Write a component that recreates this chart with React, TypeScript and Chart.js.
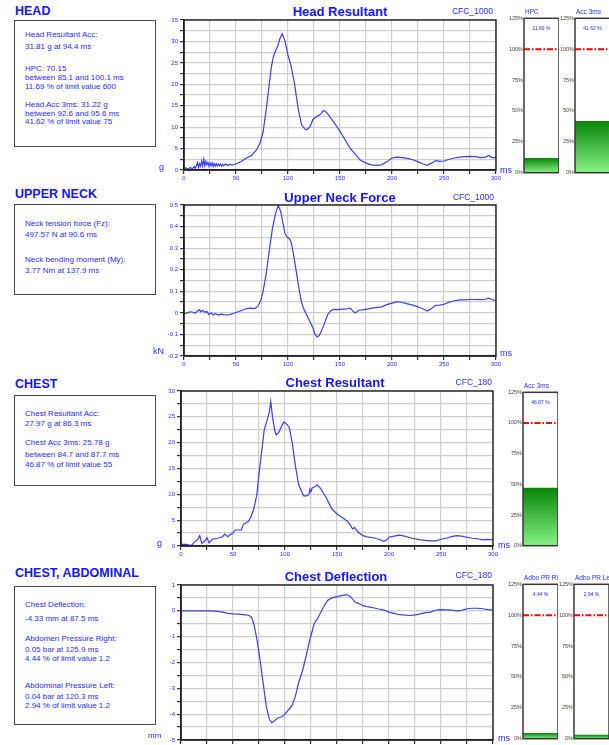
import React, { useEffect, useRef } from 'react';
import { Chart, registerables } from 'chart.js';

Chart.register(...registerables);

const FONT = "'Liberation Sans', Arial, Helvetica, sans-serif";
Chart.defaults.font.family = FONT;

const TITLE_BLUE = '#1414ff';
const TEXT_BLUE = '#2a2aff';
const LINE_BLUE = '#3c3cf0';
const GRID = '#cdcdcd';

// ---------- DATA ----------
const headT = [0, 2, 4, 6, 8, 10, 11, 12, 13, 14, 15, 16, 17, 18, 19, 20, 21, 22, 23, 24, 25, 26, 27, 28, 29, 30, 31, 32, 33, 34, 35, 36, 37, 38, 40, 42, 44, 46, 48, 50, 55, 60, 65, 70, 73, 76, 79, 82, 84, 86, 88, 90, 92, 94.4, 97, 100, 103, 106, 110, 113, 116, 118, 121, 124, 127, 130, 132, 134, 137, 140, 145, 150, 155, 160, 165, 170, 175, 180, 185, 190, 195, 200, 205, 210, 215, 220, 225, 230, 234, 238, 242, 246, 250, 255, 260, 265, 270, 275, 280, 285, 290, 293, 296, 300];
const headG = [0.3, 0.5, 0.2, 0.6, 0.3, 0.8, 0.4, 1.0, 1.7, 0.6, 1.5, 0.9, 2.1, 0.9, 2.5, 1.0, 2.0, 1.2, 1.8, 0.9, 1.6, 1.0, 1.7, 0.8, 1.5, 0.9, 1.5, 0.9, 1.4, 1.0, 1.4, 0.9, 1.3, 1.0, 1.4, 1.1, 1.3, 1.2, 1.3, 1.4, 2.0, 2.8, 3.4, 4.8, 6.2, 8.8, 14.0, 20.0, 24.0, 26.5, 27.8, 28.8, 30.5, 31.8, 30.2, 26.8, 24.3, 20.5, 14.0, 10.6, 9.6, 9.4, 10.0, 11.8, 12.4, 12.8, 13.2, 13.9, 13.5, 12.5, 10.8, 9.0, 7.0, 5.0, 3.6, 2.2, 1.6, 1.2, 1.1, 1.2, 1.9, 2.8, 3.0, 2.9, 2.7, 2.4, 1.9, 1.4, 1.1, 1.6, 2.2, 2.0, 2.1, 2.5, 2.8, 3.0, 3.1, 3.2, 3.1, 2.9, 3.0, 3.4, 2.9, 2.9];

const neckT = [0, 3, 6, 9, 11, 13, 15, 16, 18, 20, 22, 24, 26, 28, 30, 33, 36, 40, 44, 48, 52, 56, 60, 64, 68, 71, 74, 76, 79, 82, 85, 88, 90.6, 93, 95, 97, 99, 101, 103, 105, 107, 109, 111, 113, 115, 118, 121, 124, 126, 128, 130, 132, 135, 138, 141, 144, 148, 152, 156, 160, 163, 165, 168, 172, 178, 184, 190, 195, 200, 205, 210, 215, 220, 225, 230, 234, 238, 242, 246, 250, 255, 260, 265, 270, 275, 280, 285, 290, 293, 296, 300];
const neckKN = [-0.005, 0.0, 0.005, 0.003, -0.002, 0.01, 0.015, 0.005, 0.012, 0.003, 0.006, -0.008, 0.0, -0.01, -0.004, -0.01, -0.006, -0.01, -0.008, -0.002, 0.005, 0.012, 0.02, 0.022, 0.02, 0.03, 0.06, 0.1, 0.18, 0.29, 0.39, 0.46, 0.498, 0.47, 0.42, 0.37, 0.352, 0.345, 0.33, 0.28, 0.22, 0.16, 0.1, 0.05, 0.02, -0.01, -0.04, -0.07, -0.1, -0.112, -0.105, -0.085, -0.05, -0.01, 0.01, 0.016, 0.015, 0.017, 0.018, 0.022, 0.005, 0.0, 0.012, 0.014, 0.02, 0.024, 0.028, 0.038, 0.045, 0.052, 0.048, 0.042, 0.036, 0.028, 0.018, 0.008, 0.02, 0.035, 0.036, 0.04, 0.05, 0.056, 0.06, 0.06, 0.062, 0.062, 0.061, 0.063, 0.068, 0.062, 0.056];

const chestT = [0, 5, 10, 13, 16, 18, 20, 23, 25, 27, 30, 35, 40, 42, 45, 48, 50, 52, 55, 58, 60, 65, 68, 70, 73, 75, 78, 80, 83, 85, 86.3, 88, 90, 91.5, 94, 97, 99, 102, 104, 107, 110, 113, 116, 118, 121, 123, 124, 125, 126, 129, 131, 134, 137, 140, 145, 150, 155, 160, 163, 165, 167, 170, 175, 180, 185, 190, 195, 198, 200, 205, 210, 215, 220, 230, 240, 245, 250, 255, 260, 265, 270, 275, 280, 285, 290, 295, 300];
const chestG = [0.3, 0.3, 0.1, 0.8, 1.2, 2.0, 0.5, 1.0, 1.6, 0.6, 1.3, 1.5, 1.8, 2.3, 1.8, 2.3, 2.5, 3.1, 3.1, 3.1, 4.2, 4.8, 6.0, 7.2, 10.0, 14.0, 19.0, 22.5, 24.5, 26.0, 28.0, 25.0, 22.5, 21.5, 22.0, 23.3, 24.0, 23.5, 23.0, 20.0, 15.5, 12.0, 10.5, 9.7, 9.7, 10.0, 11.0, 10.5, 11.2, 11.5, 11.8, 11.2, 10.2, 9.2, 7.2, 6.2, 5.5, 4.8, 4.0, 3.3, 3.6, 2.7, 2.0, 1.7, 1.6, 1.3, 0.9, 1.2, 1.7, 1.9, 2.1, 1.9, 1.6, 1.2, 1.0, 1.0, 1.3, 1.5, 1.8, 2.0, 1.9, 1.7, 1.5, 1.4, 1.2, 1.3, 1.2];

const deflT = [0, 20, 30, 35, 40, 45, 50, 55, 60, 65, 68, 70, 73, 76, 79, 82, 85, 87.5, 90, 93, 97, 100, 104, 107, 110, 113, 117, 120, 124, 128, 132, 137, 141, 145, 150, 155, 160, 163, 167, 170, 175, 180, 185, 190, 195, 200, 205, 210, 220, 225, 230, 235, 240, 245, 250, 260, 265, 270, 275, 280, 285, 290, 295, 300];
const deflMM = [0, 0, 0, -0.02, -0.05, -0.1, -0.12, -0.13, -0.15, -0.17, -0.25, -0.5, -1.1, -1.9, -2.8, -3.7, -4.2, -4.33, -4.25, -4.15, -4.1, -4.0, -3.8, -3.65, -3.3, -2.8, -2.3, -1.8, -1.1, -0.5, -0.25, 0.15, 0.4, 0.5, 0.55, 0.6, 0.62, 0.55, 0.35, 0.3, 0.2, 0.15, 0.12, 0.07, 0.03, -0.05, -0.1, -0.15, -0.18, -0.16, -0.12, -0.07, -0.05, 0.03, 0.05, 0.03, 0.0, 0.02, 0.08, 0.1, 0.1, 0.08, 0.05, 0.03];

const gaugeNames = ['HPC', 'Acc 3ms', 'Acc 3ms', 'Adbo PR Ri', 'Adbo PR Le'];
const gaugeValues = [11.69, 41.62, 46.87, 4.44, 2.94];
const gaugeLimit = 100;
const gaugeTicks = [0, 25, 50, 75, 100, 125];

// ---------- PLUGINS ----------
const framePlugin = {
  id: 'frame',
  afterDraw(chart: any) {
    const { ctx, chartArea: a } = chart;
    ctx.save();
    ctx.strokeStyle = '#1e1e1e';
    ctx.lineWidth = 1.4;
    ctx.strokeRect(a.left, a.top, a.right - a.left, a.bottom - a.top);
    ctx.restore();
  },
};

const limitPlugin = {
  id: 'limitLine',
  afterDatasetsDraw(chart: any) {
    const { ctx, chartArea: a, scales } = chart;
    const y = scales.y.getPixelForValue(gaugeLimit);
    ctx.save();
    ctx.strokeStyle = '#ff0000';
    ctx.lineWidth = 2;
    ctx.setLineDash([6, 2, 1.5, 2]);
    ctx.beginPath();
    ctx.moveTo(a.left, y);
    ctx.lineTo(a.right, y);
    ctx.stroke();
    ctx.restore();
  },
  afterDraw(chart: any) {
    const { ctx, chartArea: a } = chart;
    ctx.save();
    ctx.strokeStyle = '#383838';
    ctx.lineWidth = 1.5;
    ctx.strokeRect(a.left, a.top, a.right - a.left, a.bottom - a.top);
    ctx.restore();
  },
};

// ---------- COMPONENTS ----------
type LineProps = {
  left: number; top: number; plotLeft: number; plotTop: number; plotRight: number; plotBottom: number;
  t: number[]; v: number[]; min: number; max: number; step: number; every: number;
};

function LineChart(p: LineProps) {
  const ref = useRef<HTMLCanvasElement>(null);
  const axisW = p.plotLeft - p.left;
  const padTop = p.plotTop - p.top;
  const xH = 12;
  const padRight = 10;
  const width = p.plotRight - p.left + padRight;
  const height = p.plotBottom - p.top + xH;
  useEffect(() => {
    const chart = new Chart(ref.current as HTMLCanvasElement, {
      type: 'line',
      data: {
        datasets: [{
          data: p.t.map((x, i) => ({ x, y: p.v[i] })),
          borderColor: LINE_BLUE,
          borderWidth: 1.2,
          pointRadius: 0,
          tension: 0,
          fill: false,
        }],
      },
      options: {
        animation: false,
        responsive: false,
        maintainAspectRatio: false,
        events: [],
        layout: { padding: { top: padTop, right: padRight, left: 0, bottom: 0 } },
        plugins: { legend: { display: false }, tooltip: { enabled: false } },
        scales: {
          x: {
            type: 'linear', min: 0, max: 300,
            ticks: {
              stepSize: 25, autoSkip: false, maxRotation: 0, padding: 1, color: TEXT_BLUE,
              font: { size: 6, family: FONT },
              callback: (val: any) => (Math.round(Number(val)) % 50 === 0 ? String(Math.round(Number(val))) : ''),
            },
            grid: { color: GRID, lineWidth: 1.2, tickColor: '#333', tickLength: 4 },
            border: { color: '#1e1e1e', width: 1.5 },
            afterFit: (s: any) => { s.height = xH; },
          },
          y: {
            type: 'linear', min: p.min, max: p.max,
            ticks: {
              stepSize: p.step, autoSkip: false, padding: 2, color: TEXT_BLUE,
              font: { size: 6, family: FONT },
              callback: (val: any) => {
                const n = Number(val);
                const k = Math.round((n / p.every) * 1000) / 1000;
                return Number.isInteger(k) ? String(parseFloat(n.toFixed(3))) : '';
              },
            },
            grid: { color: GRID, lineWidth: 1.2, tickColor: '#333', tickLength: 4 },
            border: { color: '#1e1e1e', width: 1.5 },
            afterFit: (s: any) => { s.width = axisW; },
          },
        },
      } as any,
      plugins: [framePlugin],
    });
    return () => chart.destroy();
  }, []);
  return (
    <canvas ref={ref} width={width} height={height}
      style={{ position: 'absolute', left: p.left, top: p.top, width, height }} />
  );
}

type GaugeProps = { plotLeft: number; plotTop: number; plotBottom: number; idx: number };

function Gauge(p: GaugeProps) {
  const ref = useRef<HTMLCanvasElement>(null);
  const W = 16;
  const plotW = 35;
  const pad = 4;
  const left = p.plotLeft - W;
  const top = p.plotTop - pad;
  const width = W + plotW;
  const height = p.plotBottom - p.plotTop + pad * 2;
  const value = gaugeValues[p.idx];
  useEffect(() => {
    const chart = new Chart(ref.current as HTMLCanvasElement, {
      type: 'bar',
      data: {
        labels: [gaugeNames[p.idx]],
        datasets: [{
          data: [value],
          barPercentage: 1,
          categoryPercentage: 1,
          borderWidth: 0,
          backgroundColor: (ctx: any) => {
            const c = ctx.chart;
            const a = c.chartArea;
            if (!a || !c.scales || !c.scales.y) return '#1a9a1a';
            const yTop = c.scales.y.getPixelForValue(value);
            const g = c.ctx.createLinearGradient(0, yTop, 0, a.bottom);
            g.addColorStop(0, '#0a860a');
            g.addColorStop(1, '#86f286');
            return g;
          },
        }],
      },
      options: {
        animation: false,
        responsive: false,
        maintainAspectRatio: false,
        events: [],
        layout: { padding: { top: pad, bottom: pad, left: 0, right: 0 } },
        plugins: { legend: { display: false }, tooltip: { enabled: false } },
        scales: {
          x: { display: false },
          y: {
            min: 0, max: 125,
            afterBuildTicks: (s: any) => { s.ticks = gaugeTicks.map((v) => ({ value: v })); },
            ticks: {
              padding: 1, color: '#4a4038',
              font: { size: 5.5, family: FONT },
              callback: (val: any) => `${val}%`,
            },
            grid: { display: false, drawTicks: false },
            border: { display: false },
            afterFit: (s: any) => { s.width = W; },
          },
        },
      } as any,
      plugins: [limitPlugin],
    });
    return () => chart.destroy();
  }, []);
  const cx = p.plotLeft + plotW / 2;
  return (
    <>
      <canvas ref={ref} width={width} height={height}
        style={{ position: 'absolute', left, top, width, height }} />
      <Txt x={p.plotLeft + 1} y={p.plotTop - 6} size={6.5} color={TEXT_BLUE}>{gaugeNames[p.idx]}</Txt>
      <Txt x={cx} y={p.plotTop + 10} size={5} color={TEXT_BLUE} align="center">{`${value.toFixed(2)} %`}</Txt>
    </>
  );
}

type TxtProps = { x: number; y: number; size: number; color: string; bold?: boolean; align?: 'left' | 'center' | 'right'; children: any };

function Txt({ x, y, size, color, bold, align = 'left', children }: TxtProps) {
  const tx = align === 'center' ? '-50%' : align === 'right' ? '-100%' : '0';
  return (
    <div style={{
      position: 'absolute', left: x, top: y, fontSize: size, lineHeight: 1, color,
      fontWeight: bold ? 'bold' : 'normal', fontFamily: FONT, whiteSpace: 'nowrap',
      transform: `translate(${tx}, -50%)`,
    }}>{children}</div>
  );
}

function Box({ x, y, w, h, lines }: { x: number; y: number; w: number; h: number; lines: [string, number][] }) {
  return (
    <>
      <div style={{ position: 'absolute', left: x, top: y, width: w, height: h, border: '1.5px solid #4a4a4a', boxSizing: 'border-box' }} />
      {lines.map(([s, yy], i) => (
        <Txt key={i} x={25} y={yy} size={8} color={TEXT_BLUE}>{s}</Txt>
      ))}
    </>
  );
}

export default function App() {
  return (
    <div style={{ position: 'absolute', left: 0, top: 0, width: 609, height: 745, overflow: 'hidden', background: '#fff', fontFamily: FONT }}>
      {/* HEAD */}
      <Txt x={15} y={11} size={12.5} bold color={TITLE_BLUE}>HEAD</Txt>
      <Box x={14} y={20} w={142} h={127} lines={[
        ['Head Resultant Acc:', 34.5], ['31.81 g at 94.4 ms', 47],
        ['HPC: 70.15', 68.5], ['between 85.1 and 100.1 ms', 77.5], ['11.69 % of limit value 600', 87],
        ['Head Acc 3ms: 31.22 g', 105], ['between 92.6 and 95.6 ms', 113.5], ['41.62 % of limit value 75', 122],
      ]} />
      <Txt x={340} y={10.5} size={13} bold color={TITLE_BLUE} align="center">Head Resultant</Txt>
      <Txt x={493} y={10.5} size={8.5} color={TEXT_BLUE} align="right">CFC_1000</Txt>
      <LineChart left={160} top={14} plotLeft={184} plotTop={20} plotRight={496} plotBottom={170}
        t={headT} v={headG} min={0} max={35} step={2.5} every={5} />
      <Txt x={159} y={167} size={9} color={TEXT_BLUE}>g</Txt>
      <Txt x={500} y={170} size={9} color={TEXT_BLUE}>ms</Txt>
      <Gauge plotLeft={524} plotTop={18} plotBottom={173} idx={0} />
      <Gauge plotLeft={575} plotTop={18} plotBottom={173} idx={1} />

      {/* UPPER NECK */}
      <Txt x={15} y={193.5} size={12.5} bold color={TITLE_BLUE}>UPPER NECK</Txt>
      <Box x={14} y={204} w={142} h={91} lines={[
        ['Neck tension force (Fz):', 224], ['497.57 N at 90.6 ms', 235],
        ['Neck bending moment (My):', 260], ['3.77 Nm at 137.9 ms', 271],
      ]} />
      <Txt x={340} y={196.5} size={13} bold color={TITLE_BLUE} align="center">Upper Neck Force</Txt>
      <Txt x={494} y={196.5} size={8.5} color={TEXT_BLUE} align="right">CFC_1000</Txt>
      <LineChart left={160} top={199} plotLeft={184} plotTop={205} plotRight={496} plotBottom={356}
        t={neckT} v={neckKN} min={-0.2} max={0.5} step={0.05} every={0.1} />
      <Txt x={153} y={351} size={9} color={TEXT_BLUE}>kN</Txt>
      <Txt x={500} y={353} size={9} color={TEXT_BLUE}>ms</Txt>

      {/* CHEST */}
      <Txt x={15} y={383.5} size={12.5} bold color={TITLE_BLUE}>CHEST</Txt>
      <Box x={14} y={395} w={142} h={91} lines={[
        ['Chest Resultant Acc:', 413.5], ['27.97 g at 86.3 ms', 424],
        ['Chest Acc 3ms: 25.78 g', 443], ['between 84.7 and 87.7 ms', 455], ['46.87 % of limit value 55', 465],
      ]} />
      <Txt x={335} y={382} size={13} bold color={TITLE_BLUE} align="center">Chest Resultant</Txt>
      <Txt x={492} y={381.5} size={8.5} color={TEXT_BLUE} align="right">CFC_180</Txt>
      <LineChart left={157} top={385} plotLeft={181} plotTop={391} plotRight={493} plotBottom={546}
        t={chestT} v={chestG} min={0} max={30} step={2.5} every={5} />
      <Txt x={157} y={543} size={9} color={TEXT_BLUE}>g</Txt>
      <Txt x={498} y={545} size={9} color={TEXT_BLUE}>ms</Txt>
      <Gauge plotLeft={523} plotTop={392} plotBottom={546} idx={2} />

      {/* CHEST, ABDOMINAL */}
      <Txt x={15} y={572.5} size={12.5} bold color={TITLE_BLUE}>CHEST, ABDOMINAL</Txt>
      <Box x={14} y={586} w={142} h={139} lines={[
        ['Chest Deflection:', 605], ['-4.33 mm at 87.5 ms', 618.5],
        ['Abdomen Pressure Right:', 638.5], ['0.05 bar at 125.9 ms', 649.5], ['4.44 % of limit value 1.2', 658.5],
        ['Abdominal Pressure Left:', 686], ['0.04 bar at 120.3 ms', 697], ['2.94 % of limit value 1.2', 706],
      ]} />
      <Txt x={336} y={576} size={13} bold color={TITLE_BLUE} align="center">Chest Deflection</Txt>
      <Txt x={492} y={575} size={8.5} color={TEXT_BLUE} align="right">CFC_180</Txt>
      <LineChart left={157} top={579} plotLeft={181} plotTop={585} plotRight={493} plotBottom={740}
        t={deflT} v={deflMM} min={-5} max={1} step={0.5} every={1} />
      <Txt x={148} y={736} size={8} color={TEXT_BLUE}>mm</Txt>
      <Txt x={498} y={738} size={9} color={TEXT_BLUE}>ms</Txt>
      <Gauge plotLeft={523} plotTop={584} plotBottom={739} idx={3} />
      <Gauge plotLeft={574} plotTop={584} plotBottom={739} idx={4} />
    </div>
  );
}
